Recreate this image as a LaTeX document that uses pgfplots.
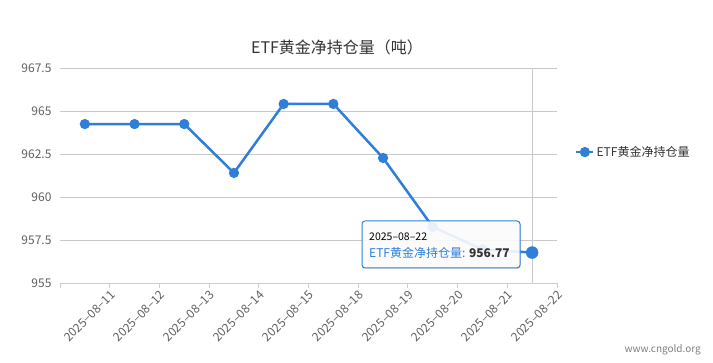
\documentclass[border=0pt]{standalone}
\usepackage{fontspec}
\setmainfont{Noto Sans CJK SC}
\usepackage{pgfplots}
\pgfplotsset{compat=1.18}
\usetikzlibrary{shadows}
\definecolor{series}{HTML}{2F7ED8}
\definecolor{titlec}{HTML}{333333}
\definecolor{tickc}{HTML}{606060}
\definecolor{axisc}{HTML}{C0D0E0}
\definecolor{gridc}{HTML}{C8C8C8}
\begin{document}
\begin{tikzpicture}[x=1pt,y=1pt]
\useasboundingbox (0,0) rectangle (713,363);
\begin{axis}[
  at={(60pt,80pt)}, anchor=south west,
  scale only axis, width=497pt, height=215pt,
  xmin=-0.5, xmax=9.5, ymin=955, ymax=967.5,
  axis x line*=bottom, axis y line*=left,
  y axis line style={draw=none},
  x axis line style={color=axisc, line width=0.8pt},
  ytick={955,957.5,960,962.5,965,967.5},
  ymajorgrids, grid style={color=gridc, line width=0.8pt},
  ytick style={draw=none},
  yticklabel style={font=\fontsize{12}{14}\selectfont, text=tickc, /pgf/number format/.cd, fixed, precision=1, assume math mode=true},
  xtick={-0.5,0.5,1.5,2.5,3.5,4.5,5.5,6.5,7.5,8.5,9.5},
  xticklabels={,2025--08--11,2025--08--12,2025--08--13,2025--08--14,2025--08--15,2025--08--18,2025--08--19,2025--08--20,2025--08--21,2025--08--22},
  tick align=outside, major tick length=5pt,
  xtick style={color=axisc, line width=0.8pt},
  xticklabel style={rotate=45, anchor=north east, font=\fontsize{12}{14}\selectfont, text=tickc, inner sep=1pt},
  legend style={at={(1.03,0.609)}, anchor=west, draw=none, fill=none, font=\fontsize{12}{14}\selectfont, text=titlec},
  clip=false,
]
\draw[color=gridc, line width=0.8pt] (axis cs:9,955) -- (axis cs:9,967.5);
\addplot[color=series, line width=2.5pt, mark=*, mark size=3.8pt, mark options={solid}] coordinates {
  (0,964.24) (1,964.24) (2,964.24) (3,961.40) (4,965.41) (5,965.41) (6,962.27) (7,958.26) (8,956.95) (9,956.77)
};
\addlegendentry{ETF黄金净持仓量}
\addplot[color=series, only marks, mark=*, mark size=6pt, forget plot] coordinates {(9,956.77)};
\end{axis}
\node[text=titlec] at (337,316) {\fontsize{16}{19}\selectfont ETF黄金净持仓量（吨）};
\node[draw=series, line width=1pt, rounded corners=3pt, fill=white, fill opacity=0.88, text opacity=1, minimum width=158pt, minimum height=47pt, drop shadow={opacity=0.2, shadow xshift=1pt, shadow yshift=-1pt}] at (441,118.5) {};
\node[anchor=west, inner sep=0pt] at (369,126) {\fontsize{10.5}{12}\selectfont 2025--08--22};
\node[anchor=west, inner sep=0pt] at (369,110) {\fontsize{12}{14}\selectfont\textcolor{series}{ETF黄金净持仓量:} \textbf{\textcolor{titlec}{956.77}}};
\node[anchor=east, text=gray, inner sep=0pt] at (701,13) {\fontsize{10}{12}\selectfont www.cngold.org};
\end{tikzpicture}
\end{document}
